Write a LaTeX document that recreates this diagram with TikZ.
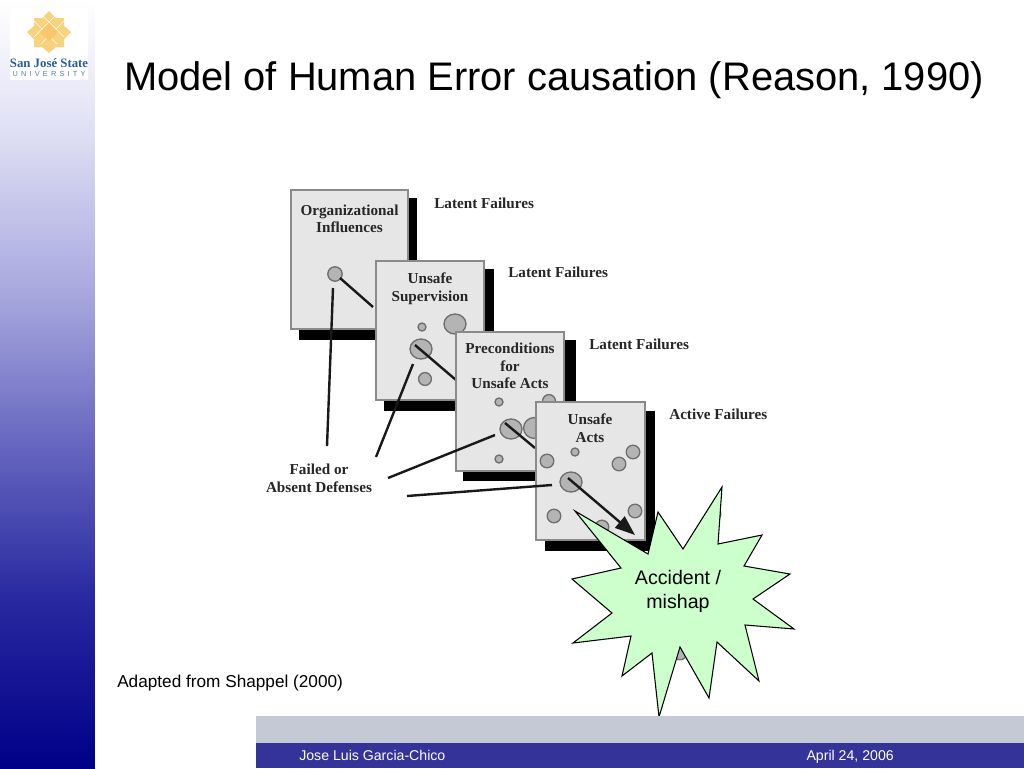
\documentclass[tikz,border=0pt]{standalone}
\usepackage{fontspec}
\setmainfont{Liberation Sans}
\newfontfamily\cardfont{Liberation Serif}
\usetikzlibrary{arrows.meta,shapes.geometric}
\definecolor{cardfill}{HTML}{E6E6E6}
\definecolor{cardedge}{HTML}{8A8A8A}
\definecolor{blobfill}{HTML}{B4B4B4}
\definecolor{blobedge}{HTML}{6E6E6E}
\definecolor{starfill}{HTML}{CCFFCC}
\definecolor{bandgrey}{HTML}{C5C9D5}
\definecolor{bandblue}{HTML}{333399}
\definecolor{sjgold}{HTML}{F9D27E}
\definecolor{sjblue}{HTML}{2A5C9A}
\tikzset{
  cardbox/.style={draw=cardedge,line width=1.5pt,fill=cardfill},
  cardshadow/.style={fill=black},
  cardtitle/.style={font=\cardfont\bfseries\fontsize{11.4}{13.2}\selectfont,text=black!85,align=center,inner sep=0pt},
  faillabel/.style={font=\cardfont\bfseries\fontsize{11.4}{13}\selectfont,text=black!85,anchor=west,inner sep=0pt},
  blob/.style={ellipse,draw=blobedge,line width=1pt,fill=blobfill,inner sep=0pt,minimum width=#1*1.2pt,minimum height=#1*1.2pt},
  bigblob/.style={ellipse,draw=blobedge,line width=1pt,fill=blobfill,inner sep=0pt,minimum width=16.5pt,minimum height=15pt},
  wire/.style={line width=1.8pt,black!90},
  slide/.style={inner sep=0pt,text=black},
  foot/.style={inner sep=0pt,text=white,font=\fontsize{10.6}{12}\selectfont}
}
\begin{document}
\begin{tikzpicture}[x=0.75pt,y=-0.75pt]
\useasboundingbox (0,0) rectangle (1024,768);
\fill[white] (0,0) rectangle (1024,768);
% left panel
\shade[top color=white,bottom color={rgb,255:red,224;green,224;blue,245}] (0,0) rectangle (95,130);
\shade[top color={rgb,255:red,224;green,224;blue,245},bottom color={rgb,255:red,165;green,165;blue,221}] (0,129.5) rectangle (95,300);
\shade[top color={rgb,255:red,165;green,165;blue,221},bottom color={rgb,255:red,100;green,100;blue,190}] (0,299.5) rectangle (95,450);
\shade[top color={rgb,255:red,100;green,100;blue,190},bottom color={rgb,255:red,40;green,40;blue,160}] (0,449.5) rectangle (95,600);
\shade[top color={rgb,255:red,40;green,40;blue,160},bottom color={rgb,255:red,0;green,0;blue,136}] (0,599.5) rectangle (95,768);
\fill[white] (95,0) rectangle (96,768);
% logo
\fill[white] (10,8) rectangle (88,80);
\fill[sjgold] (49,11) -- (56,18) -- (64,18) -- (64,26) -- (71,32) -- (64,39) -- (64,47) -- (56,47) -- (49,53) -- (42,47) -- (34,47) -- (34,39) -- (27,32) -- (34,26) -- (34,18) -- (42,18) -- cycle;
\draw[white,line width=0.5pt] (41,14) -- (64,37) (34,21) -- (57,44) (57,14) -- (34,37) (64,21) -- (41,44);
\fill[sjgold!85!orange] (49,23) -- (58,32) -- (49,41) -- (40,32) -- cycle;
\node[inner sep=0pt,text=sjblue] (logoname) at (49,63) {\cardfont\bfseries\fontsize{9.6}{12}\selectfont San José State};
\node[inner sep=0pt,text=sjblue!80] (logouni) at (49,74) {\fontsize{5.5}{6}\selectfont U\hspace{2.4pt}N\hspace{2.4pt}I\hspace{2.4pt}V\hspace{2.4pt}E\hspace{2.4pt}R\hspace{2.4pt}S\hspace{2.4pt}I\hspace{2.4pt}T\hspace{2.4pt}Y};
% title
\node[slide,font=\fontsize{29.9}{32}\selectfont] (title) at (554,80) {Model of Human Error causation (Reason, 1990)};
% card 1
\fill[cardshadow] (299,198) rectangle (417,340);
\draw[cardbox] (291,190) rectangle (408,329);
\node[cardtitle] (t1) at (349.5,219) {Organizational\\Influences};
\node[blob=9] (b1) at (335,274) {};
\coordinate (b1end) at (373,307);
\draw[wire] (340,278) -- (b1end);
\coordinate (f1a) at (333,288);
\coordinate (f1b) at (327,446);
\draw[wire] (f1a) -- (f1b);
% card 2
\fill[cardshadow] (384,269) rectangle (494,411);
\draw[cardbox] (376,261) rectangle (484,400);
\node[cardtitle] (t2) at (430,288.5) {Unsafe\\Supervision};
\node[blob=5] (b2a) at (422,327) {};
\node[bigblob] (b2b) at (455,324) {};
\node[bigblob] (b2c) at (421,349) {};
\node[blob=8] (b2d) at (425,379) {};
\coordinate (b2s) at (415,345);
\coordinate (b2e) at (456,380);
\draw[wire] (b2s) -- (b2e);
\coordinate (f2a) at (413,364);
\coordinate (f2b) at (376,457);
\draw[wire] (f2a) -- (f2b);
% card 3
\fill[cardshadow] (463,340) rectangle (576,481);
\draw[cardbox] (456,332) rectangle (564,471);
\node[cardtitle] (t3) at (510,366) {Preconditions\\for\\Unsafe Acts};
\node[blob=5] (b3a) at (499,402) {};
\node[blob=8] (b3e) at (549,401) {};
\node[bigblob] (b3b) at (511,429) {};
\node[blob=13] (b3c) at (534,428) {};
\node[blob=5] (b3d) at (499,459) {};
\coordinate (b3s) at (505,423);
\coordinate (b3t) at (535,448);
\draw[wire] (b3s) -- (b3t);
\coordinate (f3a) at (495,435);
\coordinate (f3b) at (388,478);
\draw[wire] (f3a) -- (f3b);
% card 4
\fill[cardshadow] (545,411) rectangle (655,551);
\draw[cardbox] (536,402) rectangle (645,540);
\node[cardtitle] (t4) at (590,428.5) {Unsafe\\Acts};
\node[blob=5] (b4a) at (575,452) {};
\node[blob=8.5] (b4b) at (547,461) {};
\node[blob=8.5] (b4c) at (619,464) {};
\node[blob=8.5] (b4d) at (633,452) {};
\node[bigblob] (b4e) at (571,482) {};
\node[blob=8.5] (b4f) at (554,516) {};
\node[blob=8.5] (b4g) at (635,511) {};
\node[blob=8.5] (b4h) at (602,527) {};
\coordinate (b4s) at (568,478);
\coordinate (b4t) at (635,535);
\draw[line width=1.8pt,black!90,-{Triangle[length=15pt,width=11pt]}] (b4s) -- (b4t);
\coordinate (f4a) at (552,485);
\coordinate (f4b) at (407,496);
\draw[wire] (f4a) -- (f4b);
% labels
\node[faillabel] (l1) at (434,203) {Latent Failures};
\node[faillabel] (l2) at (508,272) {Latent Failures};
\node[faillabel] (l3) at (589,344) {Latent Failures};
\node[faillabel] (l4) at (669,414) {Active Failures};
\node[cardtitle] (fd) at (319,478) {Failed or\\Absent Defenses};
% blobs peeking out behind the star
\node[blob=8.5] (b5a) at (714,514) {};
\node[blob=8.5] (b5b) at (680,653) {};
% star
\draw[fill=starfill,draw=black,line width=0.8pt,line join=miter] (575,511) -- (648,554) -- (658,512) -- (683,549) -- (722,487) -- (718,544) -- (762,535) -- (744,566) -- (790,574) -- (753,599) -- (794,629) -- (745,625) -- (759,681) -- (717,642) -- (709,698) -- (680,647) -- (659,717) -- (652,653) -- (622,676) -- (631,636) -- (573,643) -- (612,613) -- (572,579) -- (621,568) -- cycle;
\node[slide,align=center,font=\fontsize{14.7}{18}\selectfont] (acc) at (678,591) {Accident /\\mishap};
% source
\node[slide,anchor=base west,font=\fontsize{12.9}{14}\selectfont] (src) at (117,687) {Adapted from Shappel (2000)};
% footer
\fill[bandgrey] (256,716) rectangle (1024,743);
\fill[bandblue] (256,743) rectangle (1024,768);
\node[foot,anchor=base west] (author) at (299,760) {Jose Luis Garcia-Chico};
\node[foot,anchor=base east] (date) at (894,760) {April 24, 2006};
\end{tikzpicture}
\end{document}
